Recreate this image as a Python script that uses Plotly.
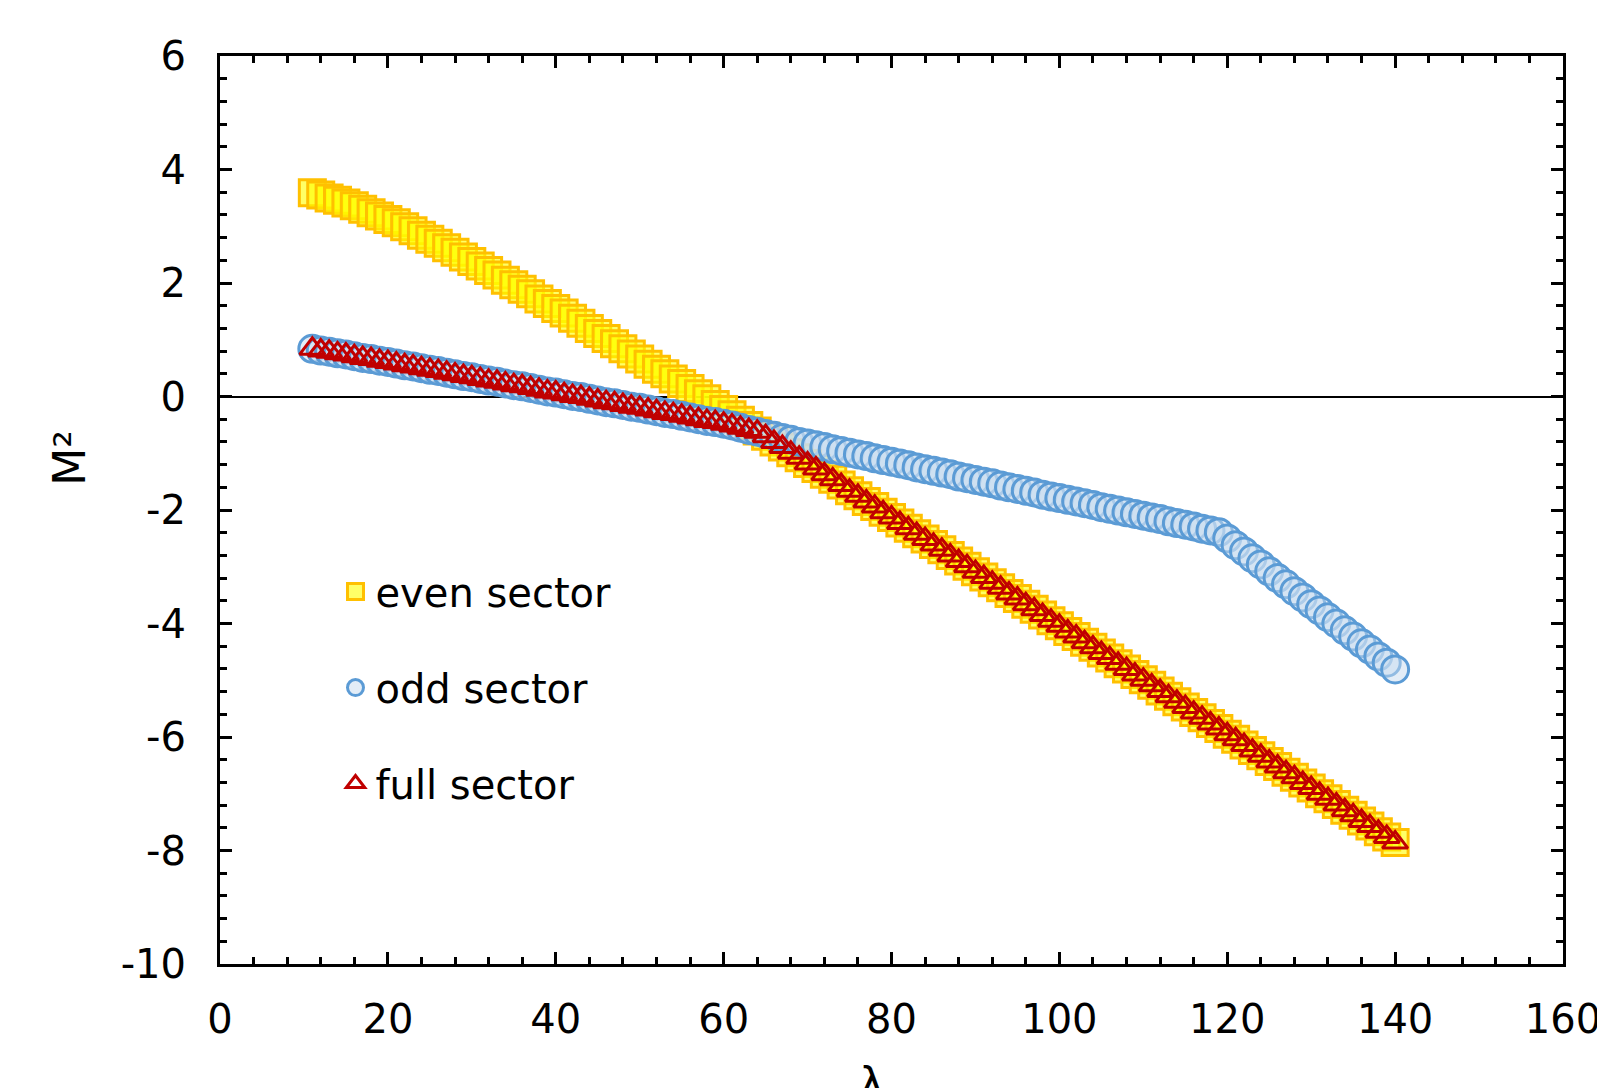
import plotly.graph_objects as go

lam = list(range(11, 141))

even_sector = [
    3.59, 3.55, 3.50, 3.46, 3.41, 3.36, 3.30, 3.24, 3.18, 3.12,
    3.06, 2.99, 2.92, 2.84, 2.77, 2.70, 2.62, 2.54, 2.46, 2.38,
    2.30, 2.22, 2.14, 2.05, 1.97, 1.89, 1.81, 1.72, 1.64, 1.55,
    1.47, 1.38, 1.29, 1.20, 1.11, 1.02, 0.93, 0.84, 0.75, 0.66,
    0.57, 0.48, 0.40, 0.31, 0.23, 0.14, 0.05, -0.04, -0.14, -0.23,
    -0.32, -0.42, -0.51, -0.61, -0.70, -0.80, -0.89, -0.99, -1.08, -1.18,
    -1.27, -1.37, -1.46, -1.56, -1.66, -1.75, -1.85, -1.94, -2.04, -2.13,
    -2.23, -2.32, -2.42, -2.51, -2.61, -2.70, -2.80, -2.90, -2.99, -3.09,
    -3.18, -3.28, -3.37, -3.47, -3.56, -3.66, -3.75, -3.85, -3.95, -4.04,
    -4.14, -4.23, -4.33, -4.42, -4.52, -4.61, -4.71, -4.80, -4.90, -4.99,
    -5.09, -5.19, -5.28, -5.38, -5.47, -5.57, -5.66, -5.76, -5.85, -5.95,
    -6.04, -6.14, -6.24, -6.33, -6.43, -6.52, -6.62, -6.71, -6.81, -6.90,
    -7.00, -7.09, -7.19, -7.29, -7.38, -7.48, -7.57, -7.67, -7.76, -7.86,
]

odd_sector = [
    0.84, 0.81, 0.79, 0.76, 0.74, 0.71, 0.68, 0.66, 0.63, 0.61,
    0.58, 0.55, 0.53, 0.50, 0.47, 0.45, 0.42, 0.39, 0.36, 0.34,
    0.31, 0.28, 0.26, 0.23, 0.20, 0.18, 0.15, 0.12, 0.09, 0.07,
    0.04, 0.01, -0.01, -0.04, -0.07, -0.10, -0.12, -0.15, -0.18, -0.20,
    -0.23, -0.26, -0.29, -0.31, -0.34, -0.37, -0.40, -0.43, -0.45, -0.48,
    -0.51, -0.55, -0.59, -0.62, -0.66, -0.69, -0.73, -0.76, -0.80, -0.83,
    -0.86, -0.89, -0.93, -0.96, -0.99, -1.02, -1.05, -1.09, -1.12, -1.15,
    -1.18, -1.21, -1.25, -1.28, -1.31, -1.34, -1.37, -1.41, -1.44, -1.47,
    -1.50, -1.53, -1.57, -1.60, -1.63, -1.66, -1.69, -1.73, -1.76, -1.79,
    -1.82, -1.85, -1.88, -1.91, -1.95, -1.98, -2.01, -2.04, -2.07, -2.10,
    -2.13, -2.16, -2.20, -2.23, -2.26, -2.29, -2.33, -2.36, -2.39, -2.50,
    -2.62, -2.73, -2.85, -2.96, -3.08, -3.20, -3.31, -3.43, -3.54, -3.66,
    -3.77, -3.89, -4.00, -4.12, -4.23, -4.35, -4.46, -4.58, -4.69, -4.81,
]

full_sector = [
    0.84, 0.81, 0.79, 0.76, 0.74, 0.71, 0.68, 0.66, 0.63, 0.61,
    0.58, 0.55, 0.53, 0.50, 0.47, 0.45, 0.42, 0.39, 0.36, 0.34,
    0.31, 0.28, 0.26, 0.23, 0.20, 0.18, 0.15, 0.12, 0.09, 0.07,
    0.04, 0.01, -0.01, -0.04, -0.07, -0.10, -0.12, -0.15, -0.18, -0.20,
    -0.23, -0.26, -0.29, -0.31, -0.34, -0.37, -0.40, -0.43, -0.45, -0.48,
    -0.51, -0.55, -0.59, -0.62, -0.70, -0.80, -0.89, -0.99, -1.08, -1.18,
    -1.27, -1.37, -1.46, -1.56, -1.66, -1.75, -1.85, -1.94, -2.04, -2.13,
    -2.23, -2.32, -2.42, -2.51, -2.61, -2.70, -2.80, -2.90, -2.99, -3.09,
    -3.18, -3.28, -3.37, -3.47, -3.56, -3.66, -3.75, -3.85, -3.95, -4.04,
    -4.14, -4.23, -4.33, -4.42, -4.52, -4.61, -4.71, -4.80, -4.90, -4.99,
    -5.09, -5.19, -5.28, -5.38, -5.47, -5.57, -5.66, -5.76, -5.85, -5.95,
    -6.04, -6.14, -6.24, -6.33, -6.43, -6.52, -6.62, -6.71, -6.81, -6.90,
    -7.00, -7.09, -7.19, -7.29, -7.38, -7.48, -7.57, -7.67, -7.76, -7.86,
]

x_ticks = [0, 20, 40, 60, 80, 100, 120, 140, 160]
y_ticks = [-10, -8, -6, -4, -2, 0, 2, 4, 6]

FONT = "DejaVu Sans"

fig = go.Figure()
fig.add_trace(go.Scatter(
    x=lam, y=even_sector, mode="markers", name="even sector", legendgroup="e",
    marker=dict(symbol="square", size=26, color="rgba(255,255,0,0.6)",
                line=dict(color="#FFC000", width=3)),
))
fig.add_trace(go.Scatter(
    x=lam, y=odd_sector, mode="markers", name="odd sector", legendgroup="o",
    marker=dict(symbol="circle", size=27, color="rgba(200,220,240,0.5)",
                line=dict(color="#5B9BD5", width=3)),
))
fig.add_trace(go.Scatter(
    x=lam, y=full_sector, mode="markers", name="full sector", legendgroup="f",
    marker=dict(symbol="triangle-up", size=22, color="rgba(255,255,255,0)",
                line=dict(color="#C00000", width=3)),
))

axis_common = dict(
    showline=True, linecolor="black", linewidth=3, mirror="allticks",
    ticks="inside", ticklen=12, tickwidth=2.5, tickcolor="black",
    showgrid=False, automargin=False,
    tickfont=dict(family=FONT, size=40, color="black"),
)

fig.update_xaxes(
    range=[0, 160], tickvals=x_ticks, ticktext=[str(v) for v in x_ticks],
    minor=dict(dtick=4, tick0=0, ticks="inside", ticklen=7, tickwidth=2.5, tickcolor="black"),
    zeroline=False, ticklabelstandoff=18,
    **axis_common,
)
fig.update_yaxes(
    range=[-10, 6], tickvals=y_ticks, ticktext=[str(v) for v in y_ticks],
    minor=dict(dtick=0.4, tick0=0, ticks="inside", ticklen=7, tickwidth=2.5, tickcolor="black"),
    zeroline=True, zerolinecolor="black", zerolinewidth=2,
    ticklabelstandoff=23,
    **axis_common,
)

# page body adds an 8px offset, so the figure is 8px smaller in each direction
fig.update_layout(
    width=1597, height=1080,
    margin=dict(l=212, r=42, t=48, b=124),
    paper_bgcolor="white", plot_bgcolor="white",
    font=dict(family=FONT, color="black"),
    legend=dict(
        x=0.086, y=0.446, xanchor="left", yanchor="top",
        font=dict(family=FONT, size=40, color="black"),
        bgcolor="rgba(0,0,0,0)", traceorder="grouped", tracegroupgap=41,
        itemwidth=30,
    ),
    annotations=[
        dict(text="λ", xref="paper", yref="paper", x=0.485, y=-0.102,
             xanchor="center", yanchor="top", showarrow=False,
             font=dict(family=FONT, size=42, color="black")),
        dict(text="M²", xref="paper", yref="paper", x=-0.112, y=0.557,
             xanchor="center", yanchor="middle", showarrow=False, textangle=-90,
             font=dict(family=FONT, size=44, color="black")),
    ],
)

fig.write_html("out.html")
